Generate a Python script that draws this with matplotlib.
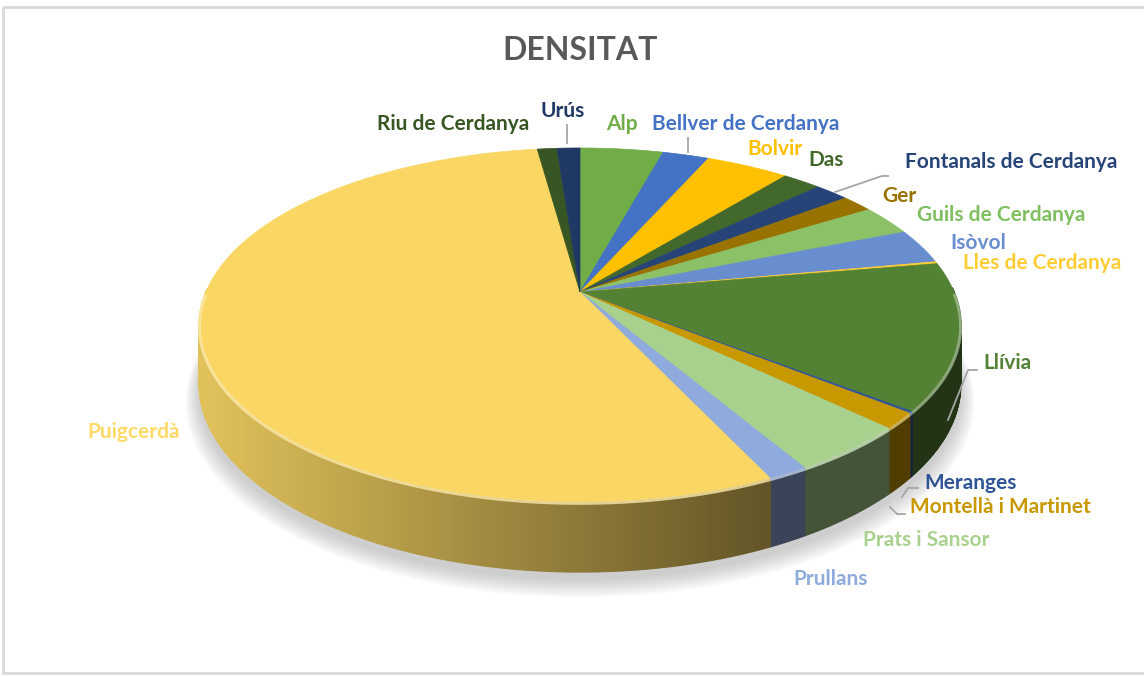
import numpy as np
import matplotlib.pyplot as plt
import matplotlib.colors as mcolors
from matplotlib.patches import Polygon, Rectangle
from matplotlib.collections import PolyCollection

plt.rcParams['font.family'] = ['Lato', 'DejaVu Sans']

# ===================== Data =====================
municipis = ['Alp', 'Bellver de Cerdanya', 'Bolvir', 'Das', 'Fontanals de Cerdanya',
             'Ger', 'Guils de Cerdanya', 'Isòvol', 'Lles de Cerdanya', 'Llívia',
             'Meranges', 'Montellà i Martinet', 'Prats i Sansor', 'Prullans',
             'Puigcerdà', 'Riu de Cerdanya', 'Urús']
densitat = [37.7, 21.1, 37.7, 17.4, 15.6, 14.4, 24.6, 28.5, 1.7, 119.3,
            1.5, 12.9, 38.9, 13.1, 489.1, 8.9, 10.4]
colors = ['#70AD47', '#4472C4', '#FFC000', '#43682B', '#264478',
          '#997300', '#8CC168', '#698ED0', '#FFCD33', '#548235',
          '#2F5597', '#C89800', '#A9D18E', '#8FAADC', '#FAD764',
          '#375623', '#203864']
label_colors = ['#70AD47', '#4472C4', '#FFC000', '#43682B', '#264478',
                '#997300', '#7FBF60', '#698ED0', '#FFCD33', '#548235',
                '#2F5597', '#C89800', '#A9D18E', '#8FAADC', '#FFD966',
                '#375623', '#203864']

# label layout (left x, centre y in pixels)
label_pos = [(606, 124), (652, 124), (747, 149), (808, 160), (905, 162),
             (882, 196), (917, 215), (950, 243), (963, 263), (983, 363),
             (924, 483), (910, 507), (863, 540), (793, 579),
             (87, 432), (377, 124), (541, 111)]

# ===================== Geometry =====================
CX, CY = 580, 292      # apex of the pie
RX, RY = 374, 170.8    # radii of the top face
K = 0.186              # perspective factor
H = 57                 # wall height


def proj(theta, z=0.0):
    t = np.radians(theta)
    u, v = np.cos(t), np.sin(t)
    s = 1.0 / (1.0 + K * v)
    return CX + RX * u * s, CY - RY * v * s + H * z * s


def shade(color, x):
    f = np.clip(0.9 - 0.5 * (x - 200) / 560, 0.4, 0.9)
    r, g, b = mcolors.to_rgb(color)
    return (r * f, g * f, b * f)


vals = np.array(densitat)
edges = 90 - 360 * np.concatenate([[0], np.cumsum(vals)]) / vals.sum()

fig = plt.figure(figsize=(11.44, 6.77), dpi=100)
ax = fig.add_axes([0, 0, 1, 1])
ax.set_xlim(0, 1144)
ax.set_ylim(677, 0)
ax.axis('off')

# chart frame
ax.add_patch(Rectangle((3, 7), 1160, 666, fill=False, ec='#D9D9D9', lw=2, zorder=0))

# soft shadow under the pie
full = np.linspace(0, 360, 361)
for i in range(10):
    bx, by = proj(full, 1.0)
    sc = 1 + 0.004 * i
    px = CX + (bx - CX) * sc
    py = CY + 8 + (by - CY) * sc + i * 0.8
    ax.add_patch(Polygon(np.c_[px, py], closed=True, fc='#808080', ec='none',
                         alpha=0.045, zorder=1))

# side walls
quads, qcols = [], []
for i, c in enumerate(colors):
    n = max(int(abs(edges[i] - edges[i + 1]) * 2), 2)
    th = np.linspace(edges[i], edges[i + 1], n + 1)
    for a, b in zip(th[:-1], th[1:]):
        if np.sin(np.radians((a + b) / 2)) >= 0.02:
            continue
        xa, ya = proj(a)
        xb, yb = proj(b)
        xa2, ya2 = proj(a, 1.0)
        xb2, yb2 = proj(b, 1.0)
        quads.append([(xa, ya), (xb, yb), (xb2, yb2), (xa2, ya2)])
        qcols.append(shade(c, (xa + xb) / 2))
ax.add_collection(PolyCollection(quads, facecolors=qcols, edgecolors=qcols,
                                 linewidths=1.1, zorder=2))

# top face
for i, c in enumerate(colors):
    n = max(int(abs(edges[i] - edges[i + 1]) * 2), 2)
    th = np.linspace(edges[i], edges[i + 1], n + 1)
    x, y = proj(th)
    pts = np.vstack([[CX, CY], np.c_[x, y]])
    ax.add_patch(Polygon(pts, closed=True, fc=c, ec=c, lw=0.5, zorder=3))

# bevel highlight along the front rim
for i, c in enumerate(colors):
    n = max(int(abs(edges[i] - edges[i + 1]) * 2), 2)
    th = np.linspace(edges[i], edges[i + 1], n + 1)
    th = th[np.sin(np.radians(th)) < 0]
    if len(th) < 2:
        continue
    x, y = proj(th)
    light = tuple(0.55 * np.array(mcolors.to_rgb(c)) + 0.45)
    ax.plot(x, y + 1.5, color=light, lw=2.2, alpha=0.8, zorder=4,
            solid_capstyle='butt')

# leader lines
leader_lines = [
    [(567, 125), (567, 143)],
    [(688, 138), (688, 152)],
    [(835, 192), (882, 176), (888, 176)],
    [(977, 370), (968, 370), (948, 420)],
    [(918, 488), (908, 488), (902, 497)],
    [(905, 514), (897, 514), (890, 507)],
]
for pts in leader_lines:
    p = np.array(pts)
    ax.plot(p[:, 0], p[:, 1], color='#A6A6A6', lw=1.3, zorder=5)

# labels
for name, (lx, ly), lc in zip(municipis, label_pos, label_colors):
    ax.text(lx, ly, name, ha='left', va='center', fontsize=15,
            fontweight='bold', color=lc, zorder=6)

ax.text(580, 50, 'DENSITAT', ha='center', va='center', fontsize=23,
        fontweight='bold', color='#595959')

fig.savefig('out.png', dpi=100)
